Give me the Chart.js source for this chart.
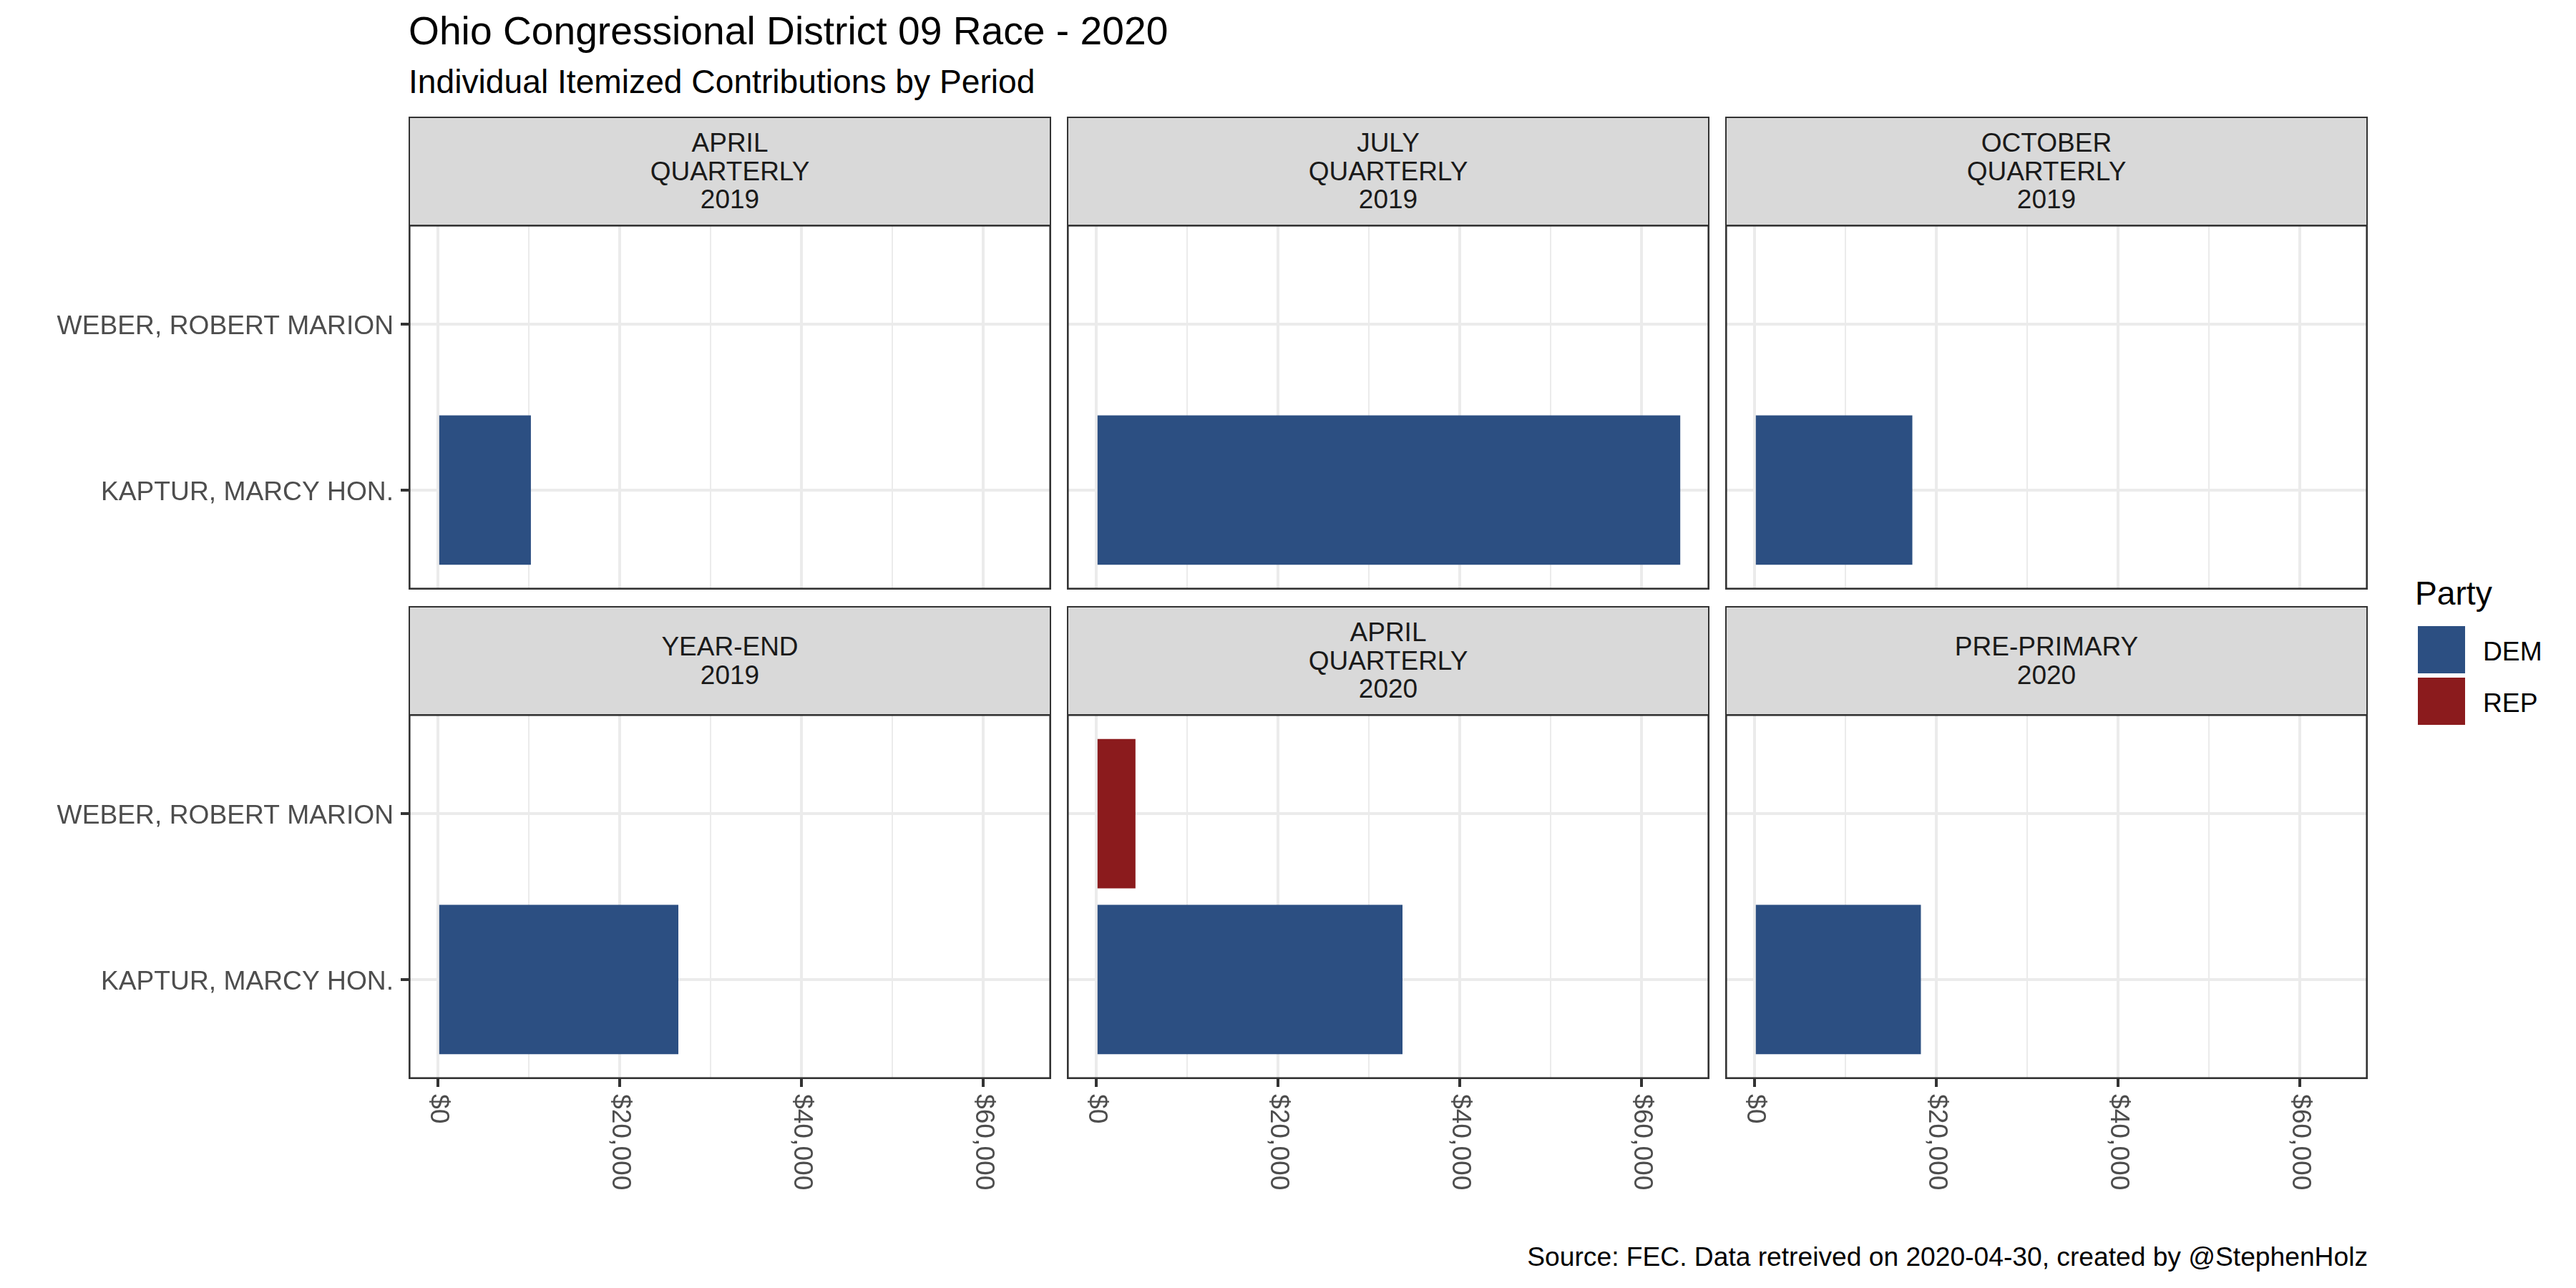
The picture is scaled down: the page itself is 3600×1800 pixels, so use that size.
<!DOCTYPE html>
<html lang="en">
<head>
<meta charset="UTF-8">
<title>Ohio Congressional District 09 Race - 2020</title>
<script src="https://cdn.jsdelivr.net/npm/chart.js"></script>
<style>
  body { margin: 0; background: #fff; }
  #page { position: relative; width: 3600px; height: 1800px; overflow: hidden;
          font-family: "Liberation Sans", Arial, sans-serif; }
  .txt { position: absolute; white-space: nowrap; line-height: 1; }
  .strip { position: absolute; box-sizing: border-box; background: #d9d9d9;
           border: 2.6px solid #333; border-bottom-width: 1.4px;
           display: flex; align-items: center; justify-content: center; text-align: center;
           color: #1a1a1a; font-size: 37px; line-height: 39.5px; }
  .key { position: absolute; width: 66px; height: 66px; }
  canvas { position: absolute; }
</style>
</head>
<body>
<div id="page"></div>
<script>
// data
const periods = [
  ['APRIL', 'QUARTERLY', '2019'],
  ['JULY', 'QUARTERLY', '2019'],
  ['OCTOBER', 'QUARTERLY', '2019'],
  ['YEAR-END', '2019'],
  ['APRIL', 'QUARTERLY', '2020'],
  ['PRE-PRIMARY', '2020']
];
const candidates = ['KAPTUR, MARCY HON.', 'WEBER, ROBERT MARION'];
const candidateParty = [0, 1];
const kaptur = [10240, 64250, 17370, 26460, 33700, 18310];
const weber = [null, null, null, null, 4330, null];
const parties = ['DEM', 'REP'];
const partyColors = ['#2c4f82', '#8b1b1d'];
// minor breaks have an empty label
const xTicks = [0, 10000, 20000, 30000, 40000, 50000, 60000];
const xTickLabels = ['$0', '', '$20,000', '', '$40,000', '', '$60,000'];

const page = document.getElementById('page');
const FONT = '"Liberation Sans", Arial, sans-serif';
const SMALL = 37.2;

// place text by its baseline, like the R output
function text(str, x, baseline, size, color, align) {
  const d = document.createElement('div');
  d.className = 'txt';
  d.textContent = str;
  d.style.fontSize = size + 'px';
  d.style.color = color;
  d.style.top = (baseline - 0.8465 * size) + 'px';
  if (align === 'right') d.style.right = (3600 - x) + 'px';
  else d.style.left = x + 'px';
  page.appendChild(d);
}

text('Ohio Congressional District 09 Race - 2020', 571, 63, 55.2, '#000');
text('Individual Itemized Contributions by Period', 571, 130.5, 46.2, '#000');
text('Source: FEC. Data retreived on 2020-04-30, created by @StephenHolz', 3309, 1769, SMALL, '#000', 'right');

// legend
text('Party', 3375, 845, 46.2, '#000');
parties.forEach((p, i) => {
  const k = document.createElement('div');
  k.className = 'key';
  k.style.left = '3379px';
  k.style.top = (875 + i * 72) + 'px';
  k.style.background = partyColors[i];
  page.appendChild(k);
  text(p, 3470, 923 + i * 72, SMALL, '#000');
});

const allValues = kaptur.concat(weber).filter(v => v != null);
const xMax = Math.max(...allValues);
const isMajor = i => xTickLabels[i] !== '';

const facetPlugin = {
  id: 'facet',
  afterDraw(chart, args, opts) {
    const ctx = chart.ctx, a = chart.chartArea;
    ctx.save();
    ctx.strokeStyle = '#333';
    ctx.lineWidth = 2.6;
    ctx.strokeRect(a.left + 1.3, a.top + 1.3, a.right - a.left - 2.6, a.bottom - a.top - 2.6);
    ctx.fillStyle = '#4d4d4d';
    ctx.font = SMALL + 'px ' + FONT;
    if (opts.showY) {
      const ys = chart.scales.y;
      ctx.textAlign = 'right';
      ctx.textBaseline = 'alphabetic';
      ys.ticks.forEach(t => {
        ctx.fillText(candidates[t.value - 1], a.left - 21, ys.getPixelForValue(t.value) + 14);
      });
    }
    if (opts.showX) {
      const xs = chart.scales.x;
      ctx.textAlign = 'left';
      ctx.textBaseline = 'middle';
      xs.ticks.forEach((t, i) => {
        if (!isMajor(i)) return;
        ctx.save();
        ctx.translate(xs.getPixelForValue(t.value), a.bottom + 21);
        ctx.rotate(Math.PI / 2);
        ctx.fillText(xTickLabels[i], 0, 0);
        ctx.restore();
      });
    }
    ctx.restore();
  }
};

periods.forEach((lines, i) => {
  const col = i % 3, row = Math.floor(i / 3);
  const PL = 571 + col * 920, PW = 898;
  const PT = row === 0 ? 314 : 998, PH = 510;
  const ML = col === 0 ? 571 : 0;
  const MB = row === 1 ? 230 : 0;

  const s = document.createElement('div');
  s.className = 'strip';
  s.style.left = PL + 'px';
  s.style.top = (PT - 151) + 'px';
  s.style.width = PW + 'px';
  s.style.height = '152px';
  s.innerHTML = lines.join('<br>');
  page.appendChild(s);

  const cv = document.createElement('canvas');
  cv.width = PW + ML;
  cv.height = PH + MB;
  cv.style.left = (PL - ML) + 'px';
  cv.style.top = PT + 'px';
  page.appendChild(cv);

  const points = [], colors = [];
  [kaptur[i], weber[i]].forEach((v, c) => {
    if (v == null) return;
    points.push({ x: v, y: c + 1 });
    colors.push(partyColors[candidateParty[c]]);
  });

  new Chart(cv, {
    type: 'bar',
    data: {
      datasets: [{
        data: points,
        backgroundColor: colors,
        borderWidth: 0,
        barPercentage: 0.9,
        categoryPercentage: 1
      }]
    },
    options: {
      indexAxis: 'y',
      responsive: false,
      animation: false,
      devicePixelRatio: 1,
      layout: { padding: 0 },
      plugins: {
        legend: { display: false },
        tooltip: { enabled: false },
        facet: { showX: row === 1, showY: col === 0 }
      },
      scales: {
        x: {
          type: 'linear',
          min: -0.05 * xMax,
          max: 1.05 * xMax,
          offset: false,
          ticks: { display: false },
          afterBuildTicks: sc => { sc.ticks = xTicks.map(v => ({ value: v })); },
          grid: {
            color: '#ebebeb',
            lineWidth: c => isMajor(c.index) ? 4 : 2,
            drawTicks: row === 1,
            tickLength: 11,
            tickWidth: 4,
            tickColor: c => isMajor(c.index) ? '#333333' : 'rgba(0,0,0,0)'
          },
          border: { display: false },
          afterFit: sc => { sc.height = MB; }
        },
        y: {
          type: 'linear',
          min: 0.4,
          max: 2.6,
          offset: false,
          ticks: { display: false, stepSize: 1, includeBounds: false },
          grid: {
            offset: false,
            color: '#ebebeb',
            lineWidth: 4,
            drawTicks: col === 0,
            tickLength: 11,
            tickWidth: 4,
            tickColor: '#333333'
          },
          border: { display: false },
          afterFit: sc => { sc.width = ML; }
        }
      }
    },
    plugins: [facetPlugin]
  });
});
</script>
</body>
</html>
